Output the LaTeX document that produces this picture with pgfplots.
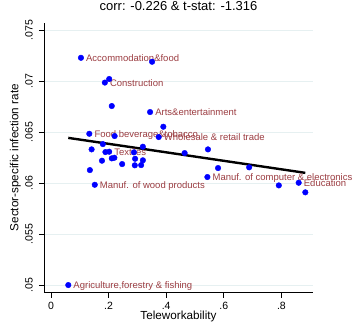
\documentclass[border=0pt]{standalone}
\usepackage{fontspec}
\setmainfont{Liberation Sans}
\usepackage{pgfplots}
\pgfplotsset{compat=1.18}
\definecolor{lblred}{RGB}{155,60,65}
\definecolor{gridc}{RGB}{230,240,241}
\definecolor{mblue}{RGB}{0,0,255}
\begin{document}
\begin{tikzpicture}
\begin{axis}[
 scale only axis, width=269bp, height=270bp,
 xmin=-0.0243, xmax=0.9097, ymin=0.04925, ymax=0.07572,
 axis x line*=bottom, axis y line*=left,
 axis line style={black, line width=0.8bp, -},
 scaled ticks=false,
 xtick={0,0.2,0.4,0.6,0.8}, xticklabels={0,.2,.4,.6,.8},
 ytick={0.05,0.055,0.06,0.065,0.07,0.075}, yticklabels={.05,.055,.06,.065,.07,.075},
 tick align=outside, major tick length=5bp, tick style={black, line width=0.8bp},
 ymajorgrids, grid style={gridc, line width=0.8bp},
 /pgf/number format/assume math mode=true,
 ticklabel style={font=\fontsize{10.5bp}{12bp}\selectfont, inner sep=0pt},
 yticklabel style={rotate=90, anchor=south},
 xticklabel style={anchor=north},
 yticklabel shift=6bp, xticklabel shift=4bp,
 title={corr: -0.226 \& t-stat: -1.316},
 title style={font=\fontsize{13bp}{15bp}\selectfont, at={(axis description cs:0.5,1.0248)}, anchor=base},
 xlabel={Teleworkability}, ylabel={Sector-specific infection rate},
 label style={font=\fontsize{11.7bp}{14bp}\selectfont},
 xlabel style={at={(axis description cs:0.5,-0.0993)}, anchor=base},
 ylabel style={at={(axis description cs:-0.0948,0.5)}, anchor=base},
 clip=false,
]
\addplot[black, line width=2.4bp] coordinates {(0.060,0.064428) (0.883,0.06100)};
\addplot[only marks, mark=*, mark size=2.8bp, mark options={draw=mblue, fill=mblue},
  point meta=explicit symbolic,
  nodes near coords, nodes near coords align={anchor=west},
  every node near coord/.append style={font=\fontsize{9.5bp}{11bp}\selectfont, text=lblred, anchor=west, inner sep=0pt, xshift=5bp, text height=0.72em, text depth=0pt}]
coordinates {
(0.104,0.07228)[{Accommodation\&food}]
(0.187,0.06985)[{Construction}]
(0.344,0.06696)[{Arts\&entertainment}]
(0.133,0.06483)[{Food beverage\&tobacco}]
(0.374,0.06451)[{Wholesale \& retail trade}]
(0.202,0.06307)[{Textiles}]
(0.152,0.05983)[{Manuf. of wood products}]
(0.543,0.06059)[{Manuf. of computer \& electronics}]
(0.860,0.06003)[{Education}]
(0.060,0.05000)[{Agriculture,forestry \& fishing}]
};
\addplot[only marks, mark=*, mark size=2.8bp, mark options={draw=mblue, fill=mblue}]
coordinates {
(0.351,0.07189) (0.202,0.07020) (0.211,0.06755) (0.390,0.06552) (0.221,0.06461)
(0.180,0.06382) (0.319,0.06356) (0.141,0.06330) (0.189,0.06304) (0.288,0.06301)
(0.464,0.06294) (0.545,0.06330) (0.177,0.06219) (0.211,0.06242) (0.220,0.06248)
(0.292,0.06238) (0.319,0.06223) (0.247,0.06186) (0.291,0.06174) (0.313,0.06176)
(0.135,0.06127) (0.580,0.06147) (0.688,0.06154) (0.791,0.05977) (0.883,0.05909)
};
\end{axis}
\pgfresetboundingbox
\path[use as bounding box] (-44bp,-32.3bp) rectangle (309bp,292.7bp);
\end{tikzpicture}
\end{document}
